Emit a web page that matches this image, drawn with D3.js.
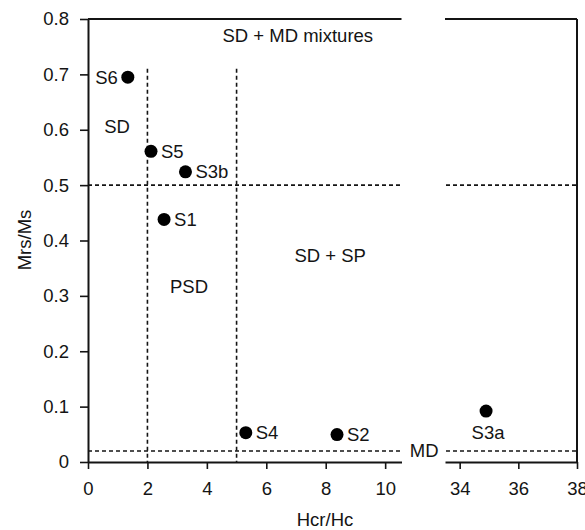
<!DOCTYPE html>
<html>
<head>
<meta charset="utf-8">
<script src="https://cdn.jsdelivr.net/npm/d3@7/dist/d3.min.js"></script>
<style>
  html, body { margin: 0; padding: 0; background: #fff; }
  svg { display: block; font-family: "Liberation Sans", Arial, sans-serif; }
</style>
</head>
<body>
<svg id="chart" width="585" height="530"></svg>
<script>
// ---- data ----
const sampleNames = ["S1", "S2", "S3a", "S3b", "S4", "S5", "S6"];
const hcrHc = [2.56, 8.38, 34.9, 3.28, 5.31, 2.12, 1.34];
const mrsMs = [0.438, 0.0495, 0.092, 0.524, 0.053, 0.561, 0.695];
const labelSide = ["right", "right", "below", "right", "right", "right", "left"];

const yTicks = [0, 0.1, 0.2, 0.3, 0.4, 0.5, 0.6, 0.7, 0.8];
const xTicksLeft = [0, 2, 4, 6, 8, 10];
const xTicksRight = [34, 36, 38];

const regionNames = ["SD + MD mixtures", "SD", "PSD", "SD + SP", "MD"];
const regionX = [7.06, 0.98, 3.4, 8.15, null];
const regionY = [0.758, 0.595, 0.305, 0.362, null];

const hLines = [0.5, 0.02];      // Mrs/Ms boundaries
const vLines = [2, 5];           // Hcr/Hc boundaries
const vLineTop = 0.71;

// ---- layout ----
const svg = d3.select("#chart");
const xL = d3.scaleLinear().domain([0, 10.55]).range([88, 401.5]);
const xR = d3.scaleLinear().domain([33.5, 38]).range([445, 577]);
const y = d3.scaleLinear().domain([0, 0.8]).range([462, 19]);
const xAny = v => v > 20 ? xR(v) : xL(v);

const ink = "#141414";
const fs = 18.5;

// Dashed boundaries
const dash = "4,3";
const gLines = svg.append("g").attr("stroke", ink).attr("stroke-width", 1.6).attr("stroke-dasharray", dash);
hLines.forEach(v => {
  gLines.append("line").attr("x1", xL.range()[0]).attr("x2", xL.range()[1]).attr("y1", y(v)).attr("y2", y(v));
  gLines.append("line").attr("x1", xR.range()[0] + 1).attr("x2", xR.range()[1]).attr("y1", y(v)).attr("y2", y(v));
});
vLines.forEach(v => {
  gLines.append("line").attr("x1", xL(v)).attr("x2", xL(v)).attr("y1", y(vLineTop)).attr("y2", y(0));
});

// Axes
function styleAxis(g) {
  g.select(".domain").attr("stroke", ink).attr("stroke-width", 2);
  g.selectAll(".tick line").attr("stroke", ink).attr("stroke-width", 1.6);
  g.selectAll(".tick text").attr("fill", ink).attr("font-size", fs).attr("font-family", "Liberation Sans, Arial, sans-serif");
}
const yAxis = svg.append("g").attr("transform", `translate(${xL.range()[0]},0)`)
  .call(d3.axisLeft(y).tickValues(yTicks).tickSize(8).tickSizeOuter(0).tickPadding(11)
    .tickFormat(d => d === 0 ? "0" : d3.format(".1f")(d)));
styleAxis(yAxis);

const xAxisL = svg.append("g").attr("transform", `translate(0,${y(0)})`)
  .call(d3.axisBottom(xL).tickValues(xTicksLeft).tickSize(7).tickSizeOuter(0).tickPadding(13).tickFormat(d3.format("d")));
styleAxis(xAxisL);
const xAxisR = svg.append("g").attr("transform", `translate(0,${y(0)})`)
  .call(d3.axisBottom(xR).tickValues(xTicksRight).tickSize(7).tickSizeOuter(0).tickPadding(13).tickFormat(d3.format("d")));
styleAxis(xAxisR);

// Top frame segments and right frame
const frame = svg.append("g").attr("stroke", ink).attr("stroke-width", 2).attr("fill", "none");
frame.append("line").attr("x1", xL.range()[0]).attr("x2", xL.range()[1]).attr("y1", y(0.8)).attr("y2", y(0.8));
frame.append("line").attr("x1", xR.range()[0]).attr("x2", xR.range()[1]).attr("y1", y(0.8)).attr("y2", y(0.8));
frame.append("line").attr("x1", xR.range()[1]).attr("x2", xR.range()[1]).attr("y1", y(0.8)).attr("y2", y(0));

// Axis titles
svg.append("text").attr("x", 325).attr("y", 526).attr("text-anchor", "middle")
  .attr("font-size", fs).attr("fill", ink).text("Hcr/Hc");
svg.append("text").attr("transform", `translate(31,240) rotate(-90)`).attr("text-anchor", "middle")
  .attr("font-size", fs).attr("fill", ink).text("Mrs/Ms");

// Region labels
const gReg = svg.append("g").attr("font-size", fs).attr("fill", ink).attr("text-anchor", "middle");
regionNames.forEach((name, i) => {
  if (name === "MD") {
    gReg.append("text").attr("x", (xL.range()[1] + xR.range()[0]) / 2 + 1).attr("y", y(0.02)).attr("dy", "0.35em")
      .text(name);
  } else {
    gReg.append("text").attr("x", xL(regionX[i])).attr("y", y(regionY[i])).text(name);
  }
});

// Points
const pts = sampleNames.map((n, i) => ({ name: n, x: hcrHc[i], y: mrsMs[i], side: labelSide[i] }));
svg.append("g").selectAll("circle").data(pts).join("circle")
  .attr("cx", d => xAny(d.x)).attr("cy", d => y(d.y)).attr("r", 6.5).attr("fill", "#000");

svg.append("g").attr("font-size", fs).attr("fill", ink).selectAll("text").data(pts).join("text")
  .attr("x", d => xAny(d.x) + (d.side === "right" ? 10 : d.side === "left" ? -10 : 2))
  .attr("y", d => y(d.y) + (d.side === "below" ? 28 : 0))
  .attr("dy", d => d.side === "below" ? 0 : "0.36em")
  .attr("text-anchor", d => d.side === "right" ? "start" : d.side === "left" ? "end" : "middle")
  .text(d => d.name);
</script>
</body>
</html>
